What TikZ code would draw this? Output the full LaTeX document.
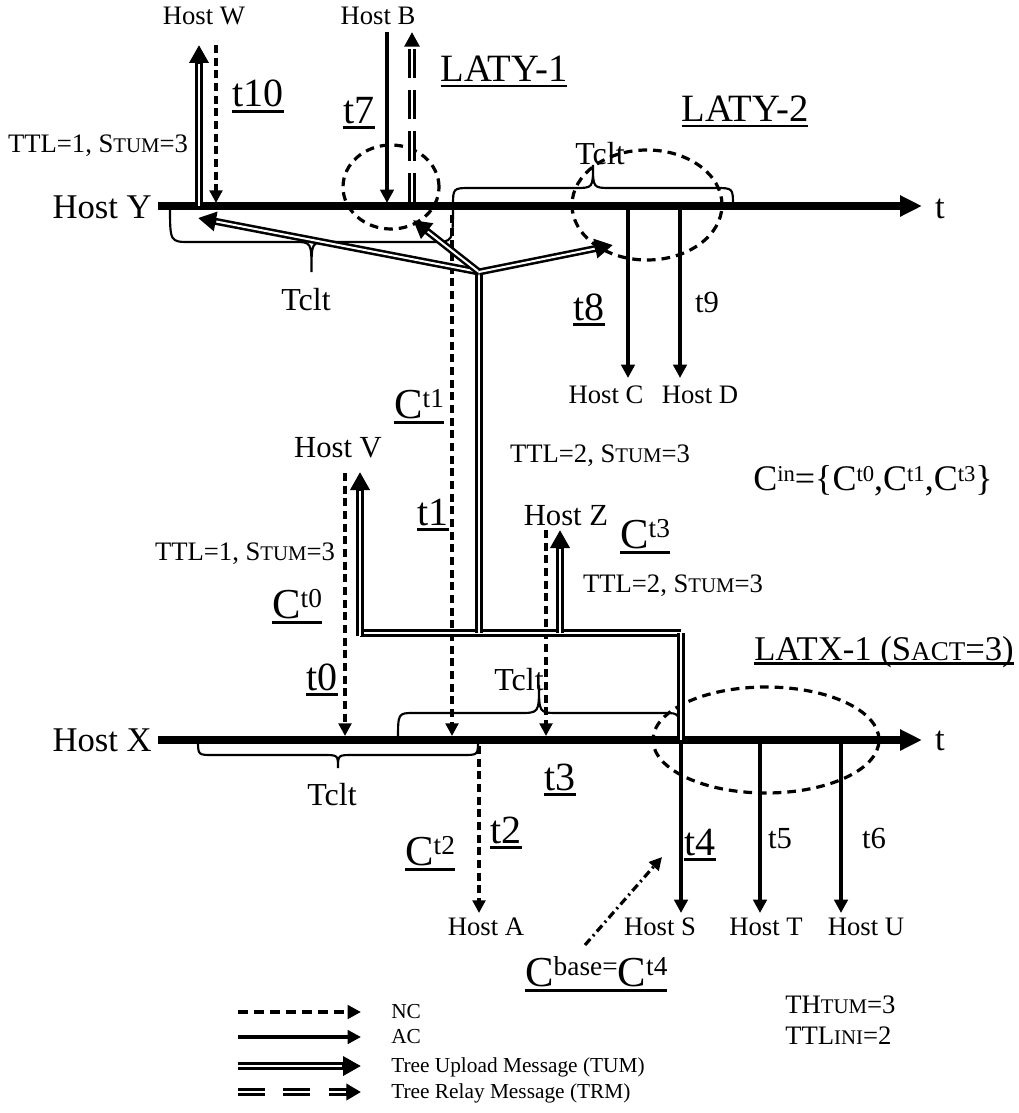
\documentclass[tikz,border=0pt]{standalone}
\usepackage{fontspec}
\setmainfont{Liberation Serif}
\usetikzlibrary{arrows.meta}
\newcommand\fs[1]{\fontsize{#1}{#1}\selectfont}
\newcommand\smc[1]{\scalebox{0.78}{#1}}
\newcommand\ul[1]{\mbox{\setbox0\hbox{#1}\rlap{\rule[-0.14em]{\wd0}{0.07em}}\box0}}
\newcommand\Cx[2]{C\raisebox{0.235em}{\fs{#1}#2}}
\newcommand\brc[7]{\draw[brcln] (#1,#3) .. controls (#1,#4) .. ({#1+#6},#4) -- ({(#1+#2)/2-#7},#4) .. controls ({(#1+#2)/2},#4) .. ({(#1+#2)/2},#5) .. controls ({(#1+#2)/2},#4) .. ({(#1+#2)/2+#7},#4) -- ({#2-#6},#4) .. controls (#2,#4) .. (#2,#3);}
\begin{document}
\begin{tikzpicture}[x=0.75pt,y=-0.75pt,
  lbl/.style={inner sep=0pt, anchor=base},
  axisln/.style={line width=6pt, -{Triangle[length=16.5pt,width=15pt]}},
  acln/.style={line width=3.2pt, -{Triangle[length=10pt,width=10pt]}},
  ncln/.style={line width=2.5pt, dash pattern=on 6pt off 3.5pt, -{Triangle[length=9.5pt,width=9.5pt]}},
  ncleg/.style={line width=2.5pt, dash pattern=on 7.5pt off 4.5pt, -{Triangle[length=10pt,width=10pt]}},
  tumseg/.style={line width=5.3pt, postaction={draw=white, line width=1.5pt}},
  tumarr/.style={line width=5.3pt, -{Triangle[length=13.5pt,width=14pt]}, postaction={draw=white, line width=1.5pt, -, shorten >=14pt}},
  trmarr/.style={line width=5.3pt, dash pattern=on 22pt off 9pt, -{Triangle[length=11pt,width=11pt]}, postaction={draw=white, line width=1.5pt, -, dash pattern=on 22pt off 9pt, shorten >=11.5pt}},
  trmleg/.style={line width=5.3pt, dash pattern=on 20pt off 14pt, -{Triangle[length=11pt,width=12pt]}, postaction={draw=white, line width=1.5pt, -, dash pattern=on 20pt off 14pt, shorten >=11.5pt}},
  ellip/.style={line width=2.4pt, dash pattern=on 6.5pt off 4.5pt},
  brcln/.style={line width=1.6pt},
  ddot/.style={line width=2.4pt, dash pattern=on 6pt off 3pt on 1.5pt off 3pt, -{Triangle[length=9.5pt,width=9.5pt]}}
]
\useasboundingbox (0,0) rectangle (1019,1113);

% braces
\brc{453}{733}{206}{188}{165}{18}{18}
\brc{170}{453}{206}{242}{272}{20}{17}
\brc{398}{680}{740}{713}{685}{16}{20}
\brc{198}{478}{740}{755}{768}{15}{15}

% axes
\coordinate (Ys) at (158,206); \coordinate (Ye) at (922,206);
\coordinate (Xs) at (158,740); \coordinate (Xe) at (922,740);
\draw[axisln] (Ys) -- (Ye);
\draw[axisln] (Xs) -- (Xe);
\node[lbl,font=\fs{26},anchor=base east] (hY) at (152,218) {Host Y};
\node[lbl,font=\fs{26},anchor=base east] (hX) at (152,751) {Host X};
\node[lbl,font=\fs{26}] (tY) at (940,218) {t};
\node[lbl,font=\fs{26}] (tX) at (940,750) {t};

% labels
\node[lbl,font=\fs{20}] (hW) at (204,25) {Host W};
\node[lbl,font=\fs{20}] (hB) at (378,25) {Host B};
\node[lbl,font=\fs{30}] (l10) at (258,107) {\ul{t10}};
\node[lbl,font=\fs{30}] (l7) at (359,123) {\ul{t7}};
\node[lbl,font=\fs{20}] (ttl1a) at (98,152) {TTL=1, S\smc{TUM}=3};
\node[lbl,font=\fs{29}] (laty1) at (504,82) {\ul{LATY-1}};
\node[lbl,font=\fs{29}] (laty2) at (745,122) {\ul{LATY-2}};
\node[lbl,font=\fs{24}] (tcA) at (600,164) {Tclt};
\node[lbl,font=\fs{24}] (tcB) at (306,310) {Tclt};
\node[lbl,font=\fs{30}] (l8) at (589,320) {\ul{t8}};
\node[lbl,font=\fs{23}] (l9) at (707,312) {t9};
\node[lbl,font=\fs{20}] (hC) at (606,403) {Host C};
\node[lbl,font=\fs{20}] (hD) at (700,403) {Host D};
\node[lbl,font=\fs{32},anchor=base west] (c1) at (394,418) {\ul{\Cx{20.5}{t1}}};
\node[lbl,font=\fs{23}] (hV) at (338,457) {Host V};
\node[lbl,font=\fs{20}] (ttl2a) at (600,462) {TTL=2, S\smc{TUM}=3};
\node[lbl,font=\fs{27},anchor=base west] (cin) at (753,490) {\Cx{17}{in}=\{\Cx{17}{t0},\Cx{17}{t1},\Cx{17}{t3}\}};
\node[lbl,font=\fs{30}] (l1) at (433,525) {\ul{t1}};
\node[lbl,font=\fs{23}] (hZ) at (566,525) {Host Z};
\node[lbl,font=\fs{32},anchor=base west] (c3) at (620,548) {\ul{\Cx{20.5}{t3}}};
\node[lbl,font=\fs{20}] (ttl1b) at (245,560) {TTL=1, S\smc{TUM}=3};
\node[lbl,font=\fs{20}] (ttl2b) at (673,592) {TTL=2, S\smc{TUM}=3};
\node[lbl,font=\fs{32},anchor=base west] (c0) at (272,618) {\ul{\Cx{20.5}{t0}}};
\node[lbl,font=\fs{26}] (latx) at (884,660) {\ul{LATX-1 (S\smc{ACT}=3)}};
\node[lbl,font=\fs{30}] (l0) at (322,690) {\ul{t0}};
\node[lbl,font=\fs{24}] (tcC) at (519,690) {Tclt};
\node[lbl,font=\fs{30}] (l3) at (560,790) {\ul{t3}};
\node[lbl,font=\fs{24}] (tcD) at (332,805) {Tclt};
\node[lbl,font=\fs{30}] (l2) at (506,843) {\ul{t2}};
\node[lbl,font=\fs{32},anchor=base west] (c2) at (405,865) {\ul{\Cx{20.5}{t2}}};
\node[lbl,font=\fs{30}] (l4) at (700,855) {\ul{t4}};
\node[lbl,font=\fs{23}] (l5) at (780,848) {t5};
\node[lbl,font=\fs{23}] (l6) at (874,848) {t6};
\node[lbl,font=\fs{20}] (hA) at (486,935) {Host A};
\node[lbl,font=\fs{20}] (hS) at (660,935) {Host S};
\node[lbl,font=\fs{20}] (hT) at (766,935) {Host T};
\node[lbl,font=\fs{20}] (hU) at (866,935) {Host U};
\node[lbl,font=\fs{32},anchor=base west] (cb) at (525,986) {\ul{\Cx{20.5}{base=}\Cx{20.5}{t4}}};
\node[lbl,font=\fs{20},anchor=base west] (th) at (785,1013) {TH\smc{TUM}=3};
\node[lbl,font=\fs{20},anchor=base west] (ttlini) at (785,1044) {TTL\smc{INI}=2};

% ellipses
\node[inner sep=0pt] (e1) at (391,187) {};
\draw[ellip] (e1) ellipse [x radius=36pt, y radius=31.5pt];
\node[inner sep=0pt] (e2) at (647,205) {};
\draw[ellip] (e2) ellipse [x radius=56.25pt, y radius=41.25pt];
\node[inner sep=0pt] (e3) at (766,740) {};
\draw[ellip] (e3) ellipse [x radius=84.75pt, y radius=39.75pt];

% Host Y side
\coordinate (wB) at (199,206); \coordinate (wT) at (199,45);
\draw[tumarr] (wB) -- (wT);
\coordinate (n10a) at (216,45); \coordinate (n10b) at (216,203);
\draw[ncln] (n10a) -- (n10b);
\coordinate (a7a) at (387,32); \coordinate (a7b) at (387,203);
\draw[acln] (a7a) -- (a7b);
\coordinate (rB) at (412,202); \coordinate (rT) at (412,32);
\draw[trmarr] (rB) -- (rT);
\coordinate (a8a) at (628,210); \coordinate (a8b) at (628,378);
\draw[acln] (a8a) -- (a8b);
\coordinate (a9a) at (680,210); \coordinate (a9b) at (680,378);
\draw[acln] (a9a) -- (a9b);

% NC to Host X
\coordinate (n1a) at (452,215); \coordinate (n1b) at (452,736);
\draw[ncln] (n1a) -- (n1b);
\coordinate (n0a) at (345,473); \coordinate (n0b) at (345,736);
\draw[ncln] (n0a) -- (n0b);
\coordinate (n3a) at (546,530); \coordinate (n3b) at (546,736);
\draw[ncln] (n3a) -- (n3b);
\coordinate (n2a) at (479,746); \coordinate (n2b) at (479,913);
\draw[ncln] (n2a) -- (n2b);

% TUM tree
\coordinate (hL) at (360,633); \coordinate (hR) at (681,633);
\coordinate (jn) at (479,272);
\draw[tumseg] (hL) -- (hR);
\draw[tumarr] (360,636) -- (360,472);
\draw[tumarr] (560,633) -- (560,530);
\draw[tumseg] (479,633) -- (jn);
\draw[tumseg] (hR) -- (681,740);
\draw[tumarr] (jn) -- (198,218);
\draw[tumarr] (jn) -- (413,220);
\draw[tumarr] (jn) -- (613,245);

% AC Host X
\draw[acln] (681,740) -- (681,913);
\draw[acln] (760,744) -- (760,913);
\draw[acln] (841,744) -- (841,913);

% Cbase pointer
\coordinate (pa) at (585,945); \coordinate (pb) at (662,857);
\draw[ddot] (pa) -- (pb);

% legend
\draw[ncleg] (238,1012) -- (361,1012);
\draw[acln] (238,1037) -- (361,1037);
\draw[tumarr] (238,1066) -- (361,1066);
\draw[trmleg] (238,1092) -- (361,1092);
\node[lbl,font=\fs{16},anchor=base west] (gNC) at (391,1018) {NC};
\node[lbl,font=\fs{16},anchor=base west] (gAC) at (391,1043) {AC};
\node[lbl,font=\fs{16},anchor=base west] (gTUM) at (391,1072) {Tree Upload Message (TUM)};
\node[lbl,font=\fs{16},anchor=base west] (gTRM) at (391,1098) {Tree Relay Message (TRM)};
\end{tikzpicture}
\end{document}
